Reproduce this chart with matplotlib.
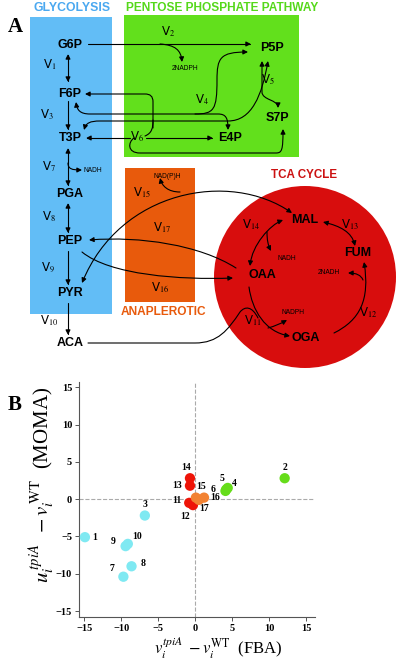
import matplotlib
matplotlib.use("Agg")
import matplotlib.pyplot as plt
from matplotlib.patches import Rectangle, Circle, FancyArrowPatch
from matplotlib.path import Path

plt.rcParams['mathtext.fontset'] = 'stix'

# ---------------- data (panel B) ----------------
rxn_ids = [1, 2, 3, 4, 5, 6, 7, 8, 9, 10, 11, 12, 13, 14, 15, 16, 17]
fba_diff = [-14.9, 12.1, -6.8, 4.4, 4.2, 4.1, -9.7, -8.6, -9.4, -9.1, -0.8, -0.3, -0.7, -0.7, 0.1, 1.2, 0.5]
moma_diff = [-5.1, 2.8, -2.2, 1.5, 1.3, 1.1, -10.4, -9.0, -6.3, -6.0, -0.5, -0.8, 1.8, 2.8, 0.2, 0.2, -0.1]
pathway = ['gly', 'ppp', 'gly', 'ppp', 'ppp', 'ppp', 'gly', 'gly', 'gly', 'gly',
           'tca', 'tca', 'tca', 'tca', 'ana', 'ana', 'ana']
ticks = [-15, -10, -5, 0, 5, 10, 15]

# ---------------- styles ----------------
col = {'gly': '#7fe9f2', 'ppp': '#66dd1a', 'tca': '#ee1408', 'ana': '#f28232'}
box_blue = '#62bdf6'
box_green = '#62e01c'
box_orange = '#e85a0c'
circ_red = '#d80d0d'
lbl_off = {1: (7, 0), 2: (0, 8), 3: (0, 8), 4: (5, 3), 5: (-3, 8), 6: (-9, 1),
           7: (-8, 6), 8: (8, 2), 9: (-9, 3), 10: (7, 5), 11: (-9, 2), 12: (-6, -8),
           13: (-9, 0), 14: (-3, 8), 15: (4, 8), 16: (8, 0), 17: (4, -6)}

fig = plt.figure(figsize=(4, 6.6), dpi=100)
ax = fig.add_axes([0, 0, 1, 1])
ax.set_xlim(0, 400)
ax.set_ylim(660, 0)
ax.axis('off')

SANS = 'Liberation Sans'
SERIF = 'Liberation Serif'

# boxes
ax.add_patch(Rectangle((30, 17), 82, 297, color=box_blue, lw=0))
ax.add_patch(Rectangle((124, 15), 175, 142, color=box_green, lw=0))
ax.add_patch(Rectangle((125, 168), 70, 134, color=box_orange, lw=0))
ax.add_patch(Circle((305, 277), 91, color=circ_red, lw=0))

ax.text(72, 8, 'GLYCOLYSIS', color='#4aa8f0', fontsize=8.8, fontweight='bold',
        family=SANS, ha='center', va='center')
ax.text(222, 8, 'PENTOSE PHOSPHATE PATHWAY', color='#55d81a', fontsize=8.6,
        fontweight='bold', family=SANS, ha='center', va='center')
ax.text(164, 312, 'ANAPLEROTIC', color=box_orange, fontsize=8.6, fontweight='bold',
        family=SANS, ha='center', va='center')
ax.text(304, 175, 'TCA CYCLE', color='#cc1111', fontsize=8.4, fontweight='bold',
        family=SANS, ha='center', va='center')

ax.text(8, 27, 'A', fontsize=15, fontweight='bold', family=SERIF, va='center')
ax.text(8, 405, 'B', fontsize=15, fontweight='bold', family=SERIF, va='center')

mets = {'G6P': (70, 45), 'F6P': (70, 94), 'T3P': (70, 138), 'PGA': (70, 194),
        'PEP': (70, 241), 'PYR': (70, 293), 'ACA': (70, 343),
        'P5P': (272, 48), 'S7P': (277, 118), 'E4P': (230, 138),
        'MAL': (305, 220), 'FUM': (358, 253), 'OAA': (262, 275), 'OGA': (306, 338)}
for m, (x, y) in mets.items():
    ax.text(x, y, m, fontsize=9, fontweight='bold', family=SANS, ha='center', va='center')

vlabels = {1: (50, 65), 2: (168, 32), 3: (47, 115), 4: (202, 100), 5: (268, 80),
           6: (137, 137), 7: (49, 167), 8: (49, 217), 9: (48, 267), 10: (49, 321),
           11: (253, 321), 12: (368, 313), 13: (350, 225), 14: (251, 225),
           15: (142, 193), 16: (160, 288), 17: (162, 228)}
for k, (x, y) in vlabels.items():
    ax.text(x, y, r'$\mathregular{V}_{%d}$' % k, fontsize=8.5, ha='center', va='center')

cof = {(185, 68): '2NADPH', (93, 171): 'NADH', (167, 176): 'NAD(P)H',
       (287, 259): 'NADH', (329, 273): '2NADH', (293, 313): 'NADPH'}
for (x, y), t in cof.items():
    ax.text(x, y, t, fontsize=4.8, family=SANS, ha='center', va='center')

M, L, C = Path.MOVETO, Path.LINETO, Path.CURVE4


def draw(verts, codes, style='-|>'):
    p = FancyArrowPatch(path=Path(verts, codes), arrowstyle=style,
                        mutation_scale=7, lw=0.8, color='black',
                        shrinkA=0, shrinkB=0)
    ax.add_patch(p)


def line(p0, p1, style='-|>'):
    draw([p0, p1], [M, L], style)


def cub(p0, p1, p2, p3, style='-|>'):
    draw([p0, p1, p2, p3], [M, C, C, C], style)


# glycolysis backbone
line((68, 54), (68, 82), '<|-|>')
line((68, 101), (68, 130))
line((68, 148), (68, 186), '<|-|>')
cub((68, 163), (68, 169), (72, 170), (82, 170))
line((68, 203), (68, 233), '<|-|>')
line((68, 251), (68, 285))
line((68, 303), (68, 335))

# PPP
line((88, 44), (251, 44))
cub((160, 44), (175, 45), (181, 50), (182, 62))
draw([(153, 128), (153, 102), (153, 96), (150, 94), (145, 94), (85, 94)],
     [M, L, C, C, C, L])
draw([(153, 120), (153, 128), (152, 133), (145, 136)], [M, C, C, C], '-')
line((130, 138), (86, 138))
line((146, 138), (213, 138))
draw([(134, 138), (128, 142), (127, 153), (140, 153), (276, 153),
      (282, 153), (283, 150), (283, 129)], [M, C, C, C, L, C, C, C])
draw([(76, 102), (77, 110), (80, 114), (90, 114), (218, 114),
      (226, 114), (228, 118), (228, 130)], [M, C, C, C, L, C, C, C], '<|-|>')
draw([(195, 114), (214, 114), (217, 110), (217, 80),
      (217, 58), (220, 52), (248, 52)], [M, C, C, C, C, C, C])
draw([(84, 130), (86, 123), (90, 121), (100, 121), (228, 121),
      (252, 121), (262, 95), (268, 61)], [M, C, C, C, L, C, C, C], '<|-|>')
draw([(262, 61), (262, 92), (262, 100), (278, 100), (278, 108)],
     [M, L, C, C, C], '<|-|>')

# anaplerotic / TCA
cub((82, 283), (120, 190), (230, 170), (292, 213), '<|-|>')
cub((180, 192), (168, 192), (162, 186), (160, 178))
cub((236, 268), (200, 245), (140, 236), (89, 240))
cub((82, 252), (110, 275), (180, 280), (233, 278))
cub((250, 266), (252, 245), (270, 225), (283, 220), '<|-|>')
cub((267, 232), (267, 240), (268, 245), (271, 251))
cub((323, 222), (340, 226), (352, 232), (355, 246), '<|-|>')
cub((334, 333), (360, 320), (370, 300), (364, 262))
cub((363, 280), (361, 275), (356, 273), (348, 273))
cub((249, 287), (252, 310), (265, 332), (290, 336))
cub((268, 328), (275, 326), (280, 324), (287, 320))
draw([(88, 343), (195, 343), (218, 343), (228, 330), (240, 312),
      (245, 306), (252, 306), (258, 318)], [M, L, C, C, C, C, C, C], '-')

# ---------------- panel B ----------------
bx = fig.add_axes([79 / 400, 1 - 617 / 660, 236 / 400, 235 / 660])
bx.set_xlim(-15.7, 16.2)
bx.set_ylim(-15.8, 15.7)
bx.axhline(0, color='#aaaaaa', ls='--', lw=0.8, zorder=0)
bx.axvline(0, color='#aaaaaa', ls='--', lw=0.8, zorder=0)
for i, x, y, g in zip(rxn_ids, fba_diff, moma_diff, pathway):
    bx.scatter(x, y, s=55, color=col[g], edgecolors='none', zorder=3)
    dx, dy = lbl_off[i]
    bx.annotate(str(i), (x, y), xytext=(dx, dy), textcoords='offset points',
                ha='center', va='center', fontsize=7, fontweight='bold', family=SERIF)
for s in ['top', 'right']:
    bx.spines[s].set_visible(False)
for s in ['left', 'bottom']:
    bx.spines[s].set_color('#555555')
    bx.spines[s].set_linewidth(0.8)
bx.set_xticks(ticks)
bx.set_yticks(ticks)
bx.tick_params(length=3, width=0.7, color='#555555', pad=2)
for t in bx.get_xticklabels() + bx.get_yticklabels():
    t.set_fontweight('bold')
    t.set_family(SERIF)
    t.set_fontsize(7.5)
fig.text(218 / 400, 1 - 654 / 660,
         r'$v_i^{tpiA}\;-v_i^{\mathrm{WT}}$  (FBA)', fontsize=12,
         family=SERIF, ha='center', va='baseline')
fig.text(42 / 400, 1 - 485 / 660,
         r'$u_i^{\,tpiA}\;\;-v_i^{\,\mathrm{WT}}$  (MOMA)', fontsize=15,
         family=SERIF, ha='center', va='center', rotation=90)

fig.savefig('out.png', dpi=100)
